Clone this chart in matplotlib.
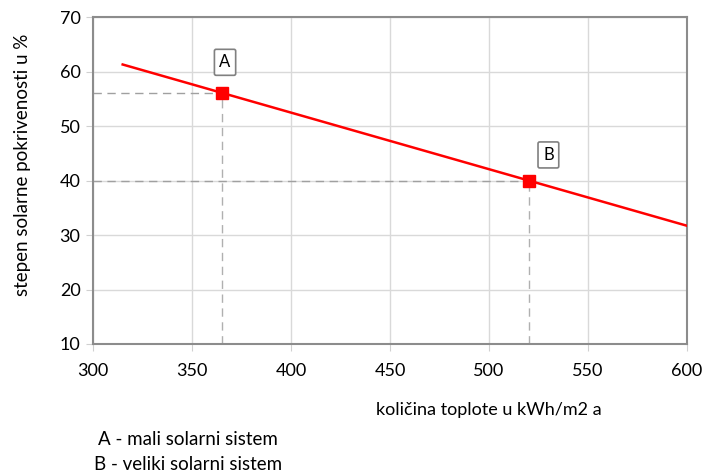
import matplotlib.pyplot as plt

# line of solar coverage vs heat amount
line_x = [315, 600]
line_y = [61.3, 31.7]

point_x = [365, 520]
point_y = [56, 40]
point_labels = ['A', 'B']

x_ticks = [300, 350, 400, 450, 500, 550, 600]
y_ticks = [10, 20, 30, 40, 50, 60, 70]

plt.rcParams['font.family'] = ['Lato', 'DejaVu Sans']

fig = plt.figure(figsize=(7.07, 4.75), dpi=100)
ax = fig.add_axes([0.1315, 0.2758, 0.8402, 0.6882])

ax.plot(line_x, line_y, color='#ff0000', lw=1.8, zorder=3)
for px, py in zip(point_x, point_y):
    ax.plot([300, px], [py, py], color='#a0a0a0', lw=1, ls=(0, (6, 4)), zorder=2)
    ax.plot([px, px], [10, py], color='#b0b0b0', lw=1, ls=(0, (6, 4)), zorder=2)
ax.plot(point_x, point_y, 's', color='#ff0000', ms=8, zorder=4)

offsets = [(1.7, 5.7), (10, 4.7)]
for px, py, lab, off in zip(point_x, point_y, point_labels, offsets):
    ax.text(px + off[0], py + off[1], lab, fontsize=12, ha='center', va='center',
            bbox=dict(boxstyle='round,pad=0.3,rounding_size=0.1', fc='white', ec='#808080', lw=1.2),
            zorder=5)

ax.set_xlim(300, 600)
ax.set_ylim(10, 70)
ax.set_xticks(x_ticks)
ax.set_yticks(y_ticks)
ax.grid(True, color='#d9d9d9', lw=1)
ax.set_axisbelow(True)
for s in ax.spines.values():
    s.set_color('#8c8c8c')
    s.set_linewidth(1.5)
ax.tick_params(axis='both', length=5, color='#d0d0d0', labelsize=13, pad=9)
ax.tick_params(axis='y', pad=4)

ax.set_ylabel('stepen solarne pokrivenosti u %', fontsize=13.5, labelpad=8)
ax.yaxis.set_label_coords(-0.105, 0.547)
fig.text(0.692, 0.137, 'količina toplote u kWh/m2 a', fontsize=13, ha='center', va='center')
fig.text(0.138, 0.074, 'A - mali solarni sistem', fontsize=13.5, ha='left', va='center')
fig.text(0.133, 0.023, 'B - veliki solarni sistem', fontsize=13.5, ha='left', va='center')

fig.savefig('out.png', dpi=100)
